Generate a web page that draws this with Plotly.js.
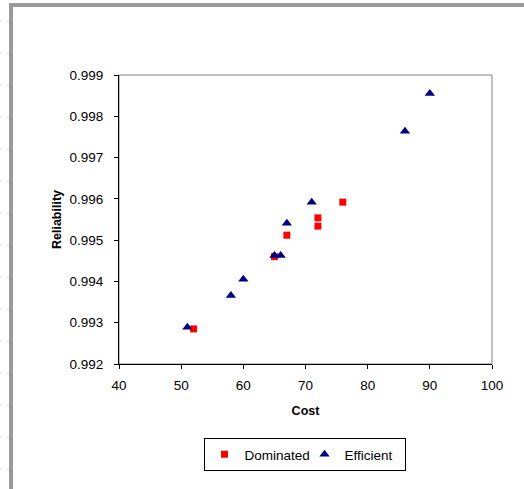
<!DOCTYPE html>
<html><head><meta charset="utf-8">
<script src="https://cdn.plot.ly/plotly-3.0.1.min.js"></script>
<style>html,body{margin:0;padding:0;background:#fff;}#chart{width:524px;height:489px;}</style>
</head><body><div id="chart"></div>
<script>
// Data
const dominatedCost = [52, 65, 67, 72, 72, 76];
const dominatedReliability = [0.99285, 0.9946, 0.99512, 0.99534, 0.99554, 0.99592];
const efficientCost = [51, 58, 60, 65, 66, 67, 71, 86, 90];
const efficientReliability = [0.99289, 0.99366, 0.99405, 0.99463, 0.99463, 0.99541, 0.99592, 0.99764, 0.99855];
const seriesNames = ["Dominated", "Efficient"];

const W = 524, H = 489, L = 119, R = 32, T = 75, B = 125;
const pw = W - L - R, ph = H - T - B;
const px = v => (v - L) / pw;          // pixel x -> paper x
const py = v => (H - B - v) / ph;      // pixel y -> paper y

const fam = '"Liberation Sans", Arial, sans-serif';
const tickFont = {family: fam, size: 13.5, color: '#000'};
const titleFont = {family: fam, size: 12.5, color: '#000'};

const shapes = [
  {type: 'rect', xref: 'paper', yref: 'paper', x0: 0, x1: 1, y0: 0, y1: 1, line: {color: '#808080', width: 1}, layer: 'below'},
  {type: 'rect', xref: 'paper', yref: 'paper', x0: px(9), x1: px(13), y0: py(495), y1: py(3), fillcolor: '#9a9a9a', line: {width: 0}},
  {type: 'rect', xref: 'paper', yref: 'paper', x0: px(9), x1: px(530), y0: py(7), y1: py(3), fillcolor: '#9a9a9a', line: {width: 0}}
];
for (let y = 21; y < H; y += 32) {
  shapes.push({type: 'line', xref: 'paper', yref: 'paper', x0: px(0), x1: px(9), y0: py(y), y1: py(y), line: {color: '#d8dcf0', width: 1, dash: 'dot'}});
}

const data = [
  {type: 'scatter', mode: 'markers', name: seriesNames[0], x: dominatedCost, y: dominatedReliability,
   marker: {symbol: 'square', size: 7, color: '#ff0000'}},
  {type: 'scatter', mode: 'markers', name: seriesNames[1], x: efficientCost, y: efficientReliability,
   marker: {symbol: 'triangle-up', size: 9, color: '#000080'}}
];

const layout = {
  width: W, height: H,
  margin: {l: L, r: R, t: T, b: B, pad: 0},
  paper_bgcolor: '#fff', plot_bgcolor: '#fff',
  font: tickFont,
  showlegend: true,
  legend: {orientation: 'h', x: px(304.5), xanchor: 'center', y: py(438), yanchor: 'top',
           bordercolor: '#000', borderwidth: 1, font: tickFont, itemwidth: 30,
           entrywidth: 55, entrywidthmode: 'pixels'},
  xaxis: {range: [40, 100], dtick: 10, tick0: 40, showgrid: false, zeroline: false,
          showline: true, linecolor: '#000', linewidth: 1, ticks: 'outside', ticklen: 4, tickcolor: '#000',
          tickfont: tickFont, ticklabelstandoff: 5,
          title: {text: '<b>Cost</b>', font: titleFont, standoff: 14}},
  yaxis: {range: [0.992, 0.999], dtick: 0.001, tick0: 0.992, tickformat: '.3f', showgrid: false, zeroline: false,
          showline: true, linecolor: '#000', linewidth: 1, ticks: 'outside', ticklen: 4, tickcolor: '#000',
          tickfont: tickFont, ticklabelstandoff: 8,
          title: {text: '<b>Reliability</b>', font: titleFont, standoff: 5}},
  shapes: shapes
};

Plotly.newPlot('chart', data, layout, {displayModeBar: false, staticPlot: true});
</script></body></html>
